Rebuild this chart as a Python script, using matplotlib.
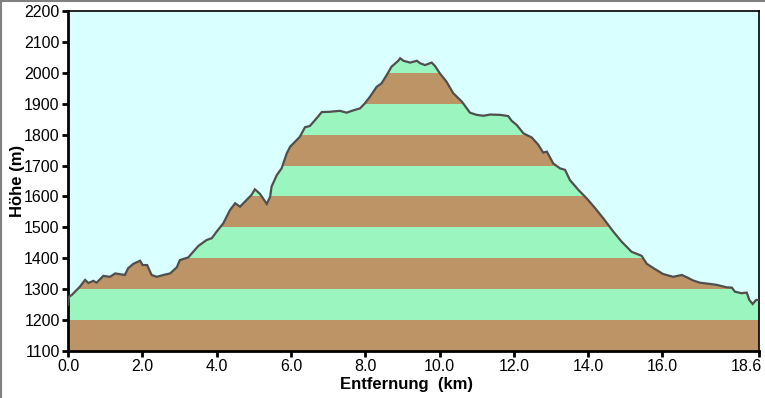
import numpy as np
import matplotlib
matplotlib.use("Agg")
import matplotlib.pyplot as plt
from matplotlib.patches import Polygon
from matplotlib.lines import Line2D
from matplotlib.transforms import ScaledTranslation

dist_km = [0.00, 0.03, 0.10, 0.19, 0.32, 0.46, 0.55, 0.68, 0.77, 0.95, 1.13, 1.27,
           1.53, 1.62, 1.76, 1.94, 2.01, 2.13, 2.25, 2.39, 2.57, 2.75, 2.93, 3.01,
           3.24, 3.37, 3.51, 3.73, 3.87, 4.00, 4.18, 4.36, 4.50, 4.63, 4.76, 4.94,
           5.03, 5.17, 5.35, 5.44, 5.48, 5.62, 5.75, 5.89, 5.98, 6.24, 6.38, 6.51,
           6.65, 6.83, 7.05, 7.32, 7.50, 7.64, 7.86, 7.99, 8.13, 8.31, 8.44, 8.58,
           8.71, 8.89, 8.94, 9.03, 9.21, 9.39, 9.48, 9.61, 9.79, 9.88, 10.01, 10.19,
           10.37, 10.60, 10.82, 11.00, 11.18, 11.36, 11.63, 11.85, 11.94, 12.08, 12.26,
           12.48, 12.66, 12.79, 12.89, 13.06, 13.24, 13.38, 13.51, 13.74, 13.96, 14.19,
           14.41, 14.68, 14.90, 15.17, 15.44, 15.58, 15.80, 16.02, 16.29, 16.52, 16.65,
           16.83, 17.01, 17.28, 17.46, 17.73, 17.87, 17.95, 18.13, 18.27, 18.34, 18.43,
           18.52, 18.60]
elev_m = [1250, 1276, 1281, 1292, 1308, 1330, 1320, 1327, 1321, 1343, 1340, 1351,
          1346, 1368, 1382, 1392, 1378, 1378, 1346, 1340, 1346, 1351, 1371, 1394,
          1403, 1421, 1440, 1459, 1465, 1486, 1513, 1556, 1578, 1567, 1583, 1605,
          1623, 1608, 1576, 1599, 1632, 1669, 1691, 1740, 1761, 1793, 1824, 1828,
          1847, 1873, 1874, 1877, 1871, 1877, 1885, 1901, 1923, 1955, 1966, 1993,
          2020, 2039, 2047, 2039, 2033, 2039, 2031, 2025, 2033, 2022, 1998, 1971,
          1934, 1907, 1871, 1864, 1861, 1865, 1864, 1860, 1845, 1831, 1804,
          1791, 1767, 1742, 1745, 1707, 1691, 1686, 1653, 1621, 1594, 1562,
          1529, 1486, 1454, 1421, 1408, 1382, 1365, 1349, 1340, 1346, 1339,
          1328, 1321, 1317, 1314, 1306, 1305, 1292, 1287, 1289, 1265, 1252,
          1265, 1265]

x_ticks = [0.0, 2.0, 4.0, 6.0, 8.0, 10.0, 12.0, 14.0, 16.0, 18.6]
x_ticklabels = ["0.0", "2.0", "4.0", "6.0", "8.0", "10.0", "12.0", "14.0", "16.0", "18.6"]
y_ticks = list(range(1100, 2201, 100))

BG = "#D9FFFF"
GREEN = "#9AF6BE"
BROWN = "#BD9466"
LINE = "#4F4F4F"

plt.rcParams["font.family"] = ["Liberation Sans", "DejaVu Sans"]

fig = plt.figure(figsize=(7.65, 3.98), dpi=100)
ax = fig.add_axes([68 / 765, 1 - 351 / 398, (759 - 68) / 765, (351 - 11) / 398])
ax.set_facecolor(BG)

x = np.array(dist_km)
y = np.array(elev_m)
ymin, ymax = 1100, 2200

poly_xy = np.vstack([np.column_stack([x, y]), [[x[-1], ymin], [x[0], ymin]]])
poly = Polygon(poly_xy, closed=True, facecolor="none", edgecolor="none")
ax.add_patch(poly)

for lo in range(ymin, ymax, 100):
    color = BROWN if (lo // 100) % 2 == 1 else GREEN
    band = ax.axhspan(lo, lo + 100, facecolor=color, edgecolor="none", zorder=1)
    band.set_clip_path(poly)

ax.plot(x, y, color=LINE, lw=1.6, zorder=6, solid_joinstyle="miter")

ax.set_xlim(0, 18.6)
ax.set_ylim(ymin, ymax)
ax.set_xticks(x_ticks)
ax.set_xticklabels(x_ticklabels)
ax.set_yticks(y_ticks)
ax.tick_params(direction="out", length=4, width=2, labelsize=11.5, pad=2, color="black")

# last x label: keep inside the figure (right edge just past the tick)
last = ax.get_xticklabels()[-1]
last.set_horizontalalignment("right")
last.set_transform(last.get_transform() + ScaledTranslation(3 / 100, 0, fig.dpi_scale_trans))

for side in ["left", "bottom"]:
    ax.spines[side].set_linewidth(2)
for side in ["top", "right"]:
    ax.spines[side].set_linewidth(1.2)
for s in ax.spines.values():
    s.set_zorder(5)

ax.set_xlabel("Entfernung  (km)", fontsize=12, fontweight="bold")
ax.set_ylabel("Höhe (m)", fontsize=12, fontweight="bold")
ax.xaxis.set_label_coords((406 - 68) / 691, -(384 - 351) / 340)
ax.xaxis.label.set_verticalalignment("center")
ax.yaxis.set_label_coords(-(68 - 17.5) / 691, 0.5)
ax.yaxis.label.set_verticalalignment("center")

fig.add_artist(Line2D([0, 1], [1 - 0.5 / 398, 1 - 0.5 / 398], transform=fig.transFigure,
                      color="#808080", lw=1.5))
fig.add_artist(Line2D([0.5 / 765, 0.5 / 765], [0, 1], transform=fig.transFigure,
                      color="#808080", lw=1.5))

fig.savefig("out.png", dpi=100, facecolor="white")
